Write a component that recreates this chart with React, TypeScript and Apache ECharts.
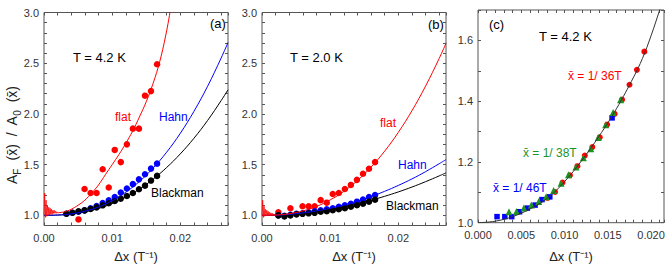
import React, { useEffect, useRef } from 'react';
import * as echarts from 'echarts';

// ---------- shared x positions of the data points (T^-1) ----------
const dotX = [0.0024, 0.00329, 0.00417, 0.00506, 0.00595, 0.00684, 0.00772, 0.00861, 0.0095, 0.01038, 0.01127, 0.01216, 0.01304, 0.01393, 0.01482, 0.0157, 0.01659];

// fit-curve x grid for panels (a) and (b)
const curveX = [0, 0.002, 0.004, 0.006, 0.008, 0.01, 0.012, 0.014, 0.016, 0.018, 0.02, 0.022, 0.024, 0.026, 0.027];

// ---------- panel (a) T = 4.2 K ----------
const aBlackmanDotsY = [null, 1.016, 1.026, 1.04, 1.049, 1.063, 1.079, 1.099, 1.119, 1.142, 1.165, 1.191, 1.221, 1.257, 1.293, 1.343, 1.389];
const aHahnDotsY = [null, 1.016, 1.026, 1.036, 1.049, 1.069, 1.092, 1.122, 1.148, 1.18, 1.225, 1.265, 1.308, 1.355, 1.405, 1.461, 1.51];
const aFlatDotsY = [null, null, null, 0.96, 1.26, 1.22, 1.22, 1.455, 1.275, 1.645, 1.525, 1.7, 1.855, 1.855, 2.18, 2.225, 2.49];
const aHahnCurve = [1.0, 1.003, 1.015, 1.041, 1.083, 1.145, 1.228, 1.334, 1.466, 1.623, 1.809, 2.025, 2.272, 2.552, 2.704];
const aBlackmanCurve = [1.0, 1.003, 1.013, 1.035, 1.068, 1.116, 1.18, 1.259, 1.356, 1.472, 1.606, 1.76, 1.935, 2.132, 2.238];
const aFlatCurveX = [0.002, 0.003, 0.004, 0.005, 0.006, 0.007, 0.008, 0.009, 0.01, 0.011, 0.012, 0.013, 0.014, 0.015, 0.016, 0.017, 0.018, 0.0186];
const aFlatCurveY = [1.025, 1.035, 1.06, 1.1, 1.15, 1.22, 1.3, 1.4, 1.5, 1.6, 1.71, 1.83, 1.97, 2.12, 2.3, 2.52, 2.82, 3.05];
const noiseX = [0, 0.0001, 0.0002, 0.0003, 0.0004, 0.0005, 0.0006, 0.0007, 0.0008, 0.0009, 0.001, 0.0011, 0.0012, 0.0013, 0.0014, 0.0015, 0.0016, 0.0017, 0.0018, 0.0019, 0.002];
const aFlatNoiseY = [1.0, 1.22, 0.98, 1.15, 0.99, 1.1, 1.0, 1.08, 1.0, 1.07, 1.01, 1.06, 1.01, 1.05, 1.02, 1.05, 1.02, 1.04, 1.02, 1.035, 1.025];

// ---------- panel (b) T = 2.0 K ----------
const bBlackmanDotsY = [1.0, 0.99, 1.0, 1.01, 1.015, 1.02, 1.025, 1.035, 1.04, 1.05, 1.06, 1.07, 1.085, 1.1, 1.115, 1.135, 1.155];
const bHahnDotsY = [1.0, 0.995, 1.005, 1.015, 1.02, 1.03, 1.04, 1.05, 1.06, 1.07, 1.085, 1.1, 1.115, 1.135, 1.155, 1.18, 1.2];
const bFlatDotsY = [1.03, null, 1.07, null, 1.09, 1.09, 1.09, 1.15, 1.125, 1.21, 1.22, 1.26, 1.3, 1.35, 1.41, 1.46, 1.525];
const bFlatCurve = [1.0, 1.003, 1.016, 1.044, 1.088, 1.152, 1.236, 1.344, 1.476, 1.633, 1.818, 2.031, 2.274, 2.547, 2.696];
const bHahnCurve = [1.0, 1.002, 1.01, 1.024, 1.044, 1.07, 1.102, 1.14, 1.185, 1.237, 1.295, 1.359, 1.431, 1.509, 1.55];
const bBlackmanCurve = [1.0, 1.002, 1.01, 1.021, 1.038, 1.059, 1.084, 1.114, 1.149, 1.188, 1.231, 1.279, 1.332, 1.389, 1.419];
const bFlatNoiseY = [1.0, 1.15, 0.98, 1.09, 0.99, 1.06, 1.0, 1.05, 1.0, 1.04, 1.0, 1.03, 1.0, 1.025, 1.0, 1.02, 1.0, 1.015, 1.0, 1.01, 1.003];

// ---------- panel (c) T = 4.2 K, different x̄ ----------
const c36X = [0.00805, 0.00891, 0.00977, 0.01063, 0.01149, 0.01235, 0.01321, 0.01407, 0.01493, 0.01579, 0.01665, 0.01751, 0.01837, 0.01923];
const c36Y = [1.082, 1.101, 1.132, 1.156, 1.186, 1.221, 1.249, 1.281, 1.323, 1.358, 1.405, 1.454, 1.503, 1.563];
const c38X = [0.00358, 0.00444, 0.0053, 0.00616, 0.00702, 0.00788, 0.00874, 0.0096, 0.01046, 0.01132, 0.01218, 0.01304, 0.0139, 0.01476, 0.01562, 0.01648];
const c38Y = [1.036, 1.037, 1.048, 1.058, 1.07, 1.085, 1.106, 1.13, 1.158, 1.183, 1.214, 1.243, 1.28, 1.322, 1.363, 1.405];
const c46X = [0.0022, 0.0031, 0.0039, 0.0048, 0.0057, 0.0066, 0.0074, 0.0083, 0.0155];
const c46Y = [1.02, 1.02, 1.02, 1.036, 1.048, 1.058, 1.076, 1.085, 1.345];
const cCurveX = [0, 0.002, 0.004, 0.006, 0.008, 0.01, 0.012, 0.014, 0.016, 0.018, 0.019, 0.02, 0.021, 0.0215];
const cCurveY = [1.0, 1.005, 1.02, 1.045, 1.08, 1.135, 1.205, 1.285, 1.375, 1.48, 1.54, 1.615, 1.7, 1.745];

const FONT = '"Liberation Sans", Arial, sans-serif';
const RED = '#ff0000';
const BLUE = '#0000ff';
const GREEN = '#1f931f';
const FRAME = '#555';

const zip = (xs: number[], ys: (number | null)[]) => {
  const out: number[][] = [];
  xs.forEach((x, i) => {
    const y = ys[i];
    if (y !== null && y !== undefined) out.push([x, y]);
  });
  return out;
};

const labelFmt = (step: number, dec: number) => (v: number) => {
  const r = v / step;
  return Math.abs(r - Math.round(r)) < 1e-6 ? v.toFixed(dec) : '';
};

function xAx(grid: number, pos: 'bottom' | 'top', min: number, max: number, interval: number, step: number, dec: number) {
  return {
    type: 'value', gridIndex: grid, position: pos, min, max, interval,
    axisLine: { show: false, onZero: false },
    axisTick: { show: true, inside: true, length: 3, lineStyle: { color: FRAME, width: 1 } },
    splitLine: { show: false },
    axisLabel: pos === 'bottom'
      ? { show: true, margin: 7, fontSize: 11, fontFamily: FONT, color: '#333', formatter: labelFmt(step, dec) }
      : { show: false },
  };
}

function yAx(grid: number, pos: 'left' | 'right', min: number, max: number, interval: number, step: number, dec: number) {
  return {
    type: 'value', gridIndex: grid, position: pos, min, max, interval,
    axisLine: { show: false, onZero: false },
    axisTick: { show: true, inside: true, length: 3, lineStyle: { color: FRAME, width: 1 } },
    splitLine: { show: false },
    axisLabel: pos === 'left'
      ? { show: true, margin: 5, fontSize: 11, fontFamily: FONT, color: '#333', formatter: labelFmt(step, dec) }
      : { show: false },
  };
}

const line = (xi: number, data: number[][], color: string, smooth: number | boolean = 0.4, width = 1) => ({
  type: 'line', xAxisIndex: xi, yAxisIndex: xi, data, smooth, symbol: 'none', showSymbol: false,
  lineStyle: { color, width }, silent: true,
});
const dots = (xi: number, data: number[][], color: string, symbol = 'circle', size = 6.5) => ({
  type: 'scatter', xAxisIndex: xi, yAxisIndex: xi, data, symbol, symbolSize: size,
  itemStyle: { color, opacity: 1 }, silent: true,
});

const txt = (x: number, y: number, text: string, color = '#000', size = 13, extra: any = {}) => ({
  type: 'text', x, y, z: 100, ...extra,
  style: { text, fill: color, font: `${size}px ${FONT}`, fontSize: size, fontFamily: FONT, align: 'left', verticalAlign: 'middle', ...(extra.style || {}) },
});

export default function App() {
  const ref = useRef<HTMLDivElement>(null);
  useEffect(() => {
    if (!ref.current) return;
    const chart = echarts.init(ref.current, null, { renderer: 'svg' });
    const gridCommon = { show: true, borderColor: FRAME, borderWidth: 1, backgroundColor: 'transparent' };
    const option: any = {
      animation: false,
      backgroundColor: '#fff',
      grid: [
        { left: 44, top: 12.5, width: 184, height: 213, ...gridCommon },
        { left: 262, top: 12.5, width: 184, height: 213, ...gridCommon },
        { left: 478, top: 10, width: 186, height: 212.7, ...gridCommon },
      ],
      xAxis: [
        xAx(0, 'bottom', 0, 0.027, 0.002, 0.01, 2),
        xAx(0, 'top', 0, 0.027, 0.002, 0.01, 2),
        xAx(1, 'bottom', 0, 0.027, 0.002, 0.01, 2),
        xAx(1, 'top', 0, 0.027, 0.002, 0.01, 2),
        xAx(2, 'bottom', 0, 0.0215, 0.001, 0.005, 3),
        xAx(2, 'top', 0, 0.0215, 0.001, 0.005, 3),
      ],
      yAxis: [
        yAx(0, 'left', 0.9, 3.0, 0.1, 0.5, 1),
        yAx(0, 'right', 0.9, 3.0, 0.1, 0.5, 1),
        yAx(1, 'left', 0.9, 3.0, 0.1, 0.5, 1),
        yAx(1, 'right', 0.9, 3.0, 0.1, 0.5, 1),
        yAx(2, 'left', 1.0, 1.7, 0.1, 0.2, 1),
        yAx(2, 'right', 1.0, 1.7, 0.1, 0.2, 1),
      ],
      series: [
        // panel (a)
        line(0, zip(curveX, aBlackmanCurve), '#000'),
        line(0, zip(curveX, aHahnCurve), BLUE),
        line(0, zip(noiseX, aFlatNoiseY), RED, false, 0.8),
        line(0, zip(aFlatCurveX, aFlatCurveY), RED),
        dots(0, zip(dotX, aHahnDotsY), BLUE),
        dots(0, zip(dotX, aBlackmanDotsY), '#000'),
        dots(0, zip(dotX, aFlatDotsY), RED),
        // panel (b)
        line(2, zip(curveX, bBlackmanCurve), '#000'),
        line(2, zip(curveX, bHahnCurve), BLUE),
        line(2, zip(noiseX, bFlatNoiseY), RED, false, 0.8),
        line(2, zip(curveX, bFlatCurve), RED),
        dots(2, zip(dotX, bFlatDotsY), RED),
        dots(2, zip(dotX, bHahnDotsY), BLUE),
        dots(2, zip(dotX, bBlackmanDotsY), '#000'),
        // panel (c)
        line(4, zip(cCurveX, cCurveY), '#333'),
        dots(4, zip(c36X, c36Y), RED, 'circle', 6),
        dots(4, zip(c46X, c46Y), BLUE, 'rect', 5.5),
        dots(4, zip(c38X, c38Y), GREEN, 'triangle', 7),
      ],
      graphic: [
        {
          type: 'text', x: 12, y: 135, rotation: Math.PI / 2, z: 100,
          style: {
            text: '{n|A}{s|F}{n|  (x̄)  /  A}{s|0}{n|  (x̄)}',
            align: 'center', verticalAlign: 'middle', fill: '#222',
            rich: {
              n: { fontSize: 14, fontFamily: FONT, lineHeight: 21, verticalAlign: 'middle', fill: '#222' },
              s: { fontSize: 10, fontFamily: FONT, lineHeight: 10, verticalAlign: 'bottom', fill: '#222' },
            },
          },
        },
        txt(136, 256, 'Δx (T⁻¹)', '#222', 13, { style: { align: 'center' } }),
        txt(354, 256, 'Δx (T⁻¹)', '#222', 13, { style: { align: 'center' } }),
        txt(571, 256, 'Δx (T⁻¹)', '#222', 13, { style: { align: 'center' } }),
        // (a)
        txt(73, 57, 'T = 4.2 K'),
        txt(210, 23, '(a)'),
        txt(115, 117, 'flat', RED, 12),
        txt(159, 117, 'Hahn', BLUE, 12),
        txt(151, 193, 'Blackman', '#000', 12),
        // (b)
        txt(290, 57, 'T = 2.0 K'),
        txt(428, 24, '(b)'),
        txt(380, 123, 'flat', RED, 12),
        txt(398, 165, 'Hahn', BLUE, 12),
        txt(386, 206, 'Blackman', '#000', 12),
        // (c)
        txt(489, 24, '(c)'),
        txt(539, 36, 'T = 4.2 K'),
        txt(568, 76, 'x̄ = 1/ 36T', RED, 12),
        txt(523, 153, 'x̄ = 1/ 38T', GREEN, 12),
        txt(493, 188, 'x̄ = 1/ 46T', BLUE, 12),
      ],
    };
    chart.setOption(option);
    return () => chart.dispose();
  }, []);
  return <div ref={ref} style={{ position: 'absolute', left: 0, top: 0, width: 671, height: 267, background: '#fff' }} />;
}
